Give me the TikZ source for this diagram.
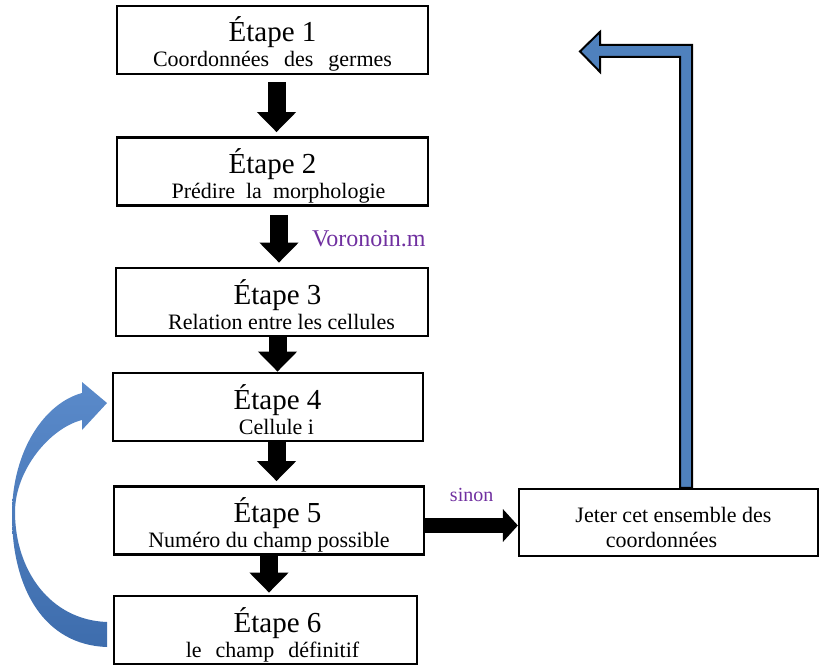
\documentclass[tikz,border=0pt]{standalone}
\usepackage{fontspec}
\setmainfont{Liberation Serif}
\usetikzlibrary{arrows.meta}
\definecolor{bleu}{HTML}{4F81BD}
\definecolor{bleuhaut}{HTML}{5A8ACA}
\definecolor{bleubas}{HTML}{3E6DAD}
\definecolor{violetm}{HTML}{7030A0}
\tikzset{
  etape/.style={draw, line width=2.8pt, minimum height=68pt, inner sep=0pt,
    align=center, text height=54pt, text depth=0pt, font=\fontsize{22}{25}\selectfont},
  fleche/.style={line width=18pt, -{Triangle[width=38pt,length=20pt]}},
  etiquette/.style={inner sep=0pt, text=violetm},
}
\newcommand{\titre}{\fontsize{29}{25}\selectfont}
\begin{document}
\begin{tikzpicture}[x=1pt,y=-1pt]
\useasboundingbox (0,0) rectangle (821,671);
\node[etape,minimum width=311pt] (b1) at (272.5,40) {{\titre Étape 1}\\Coordonnées\hspace{15pt}des\hspace{15pt}germes};
\node[etape,minimum width=311pt] (b2) at (272.5,171.5) {{\titre Étape 2}\\\hspace*{12pt}Prédire\hspace{11pt}la\hspace{11pt}morphologie};
\node[etape,minimum width=312pt] (b3) at (272,302) {\hspace*{11pt}{\titre Étape 3}\\\hspace*{19pt}Relation entre les cellules};
\node[etape,minimum width=310pt] (b4) at (268,407) {\hspace*{19pt}{\titre Étape 4}\\\hspace*{17pt}Cellule i};
\node[etape,minimum width=310pt] (b5) at (269,520.5) {\hspace*{17pt}{\titre Étape 5}\\Numéro du champ possible};
\node[etape,minimum width=303pt] (b6) at (265.5,630) {\hspace*{24pt}{\titre Étape 6}\\\hspace*{14pt}le\hspace{14pt}champ\hspace{14pt}définitif};
\node[etape,minimum width=299pt,minimum height=67pt,line width=2.2pt,text height=49pt] (j) at (668.5,522.5) {\hspace*{10pt}Jeter cet ensemble des\\coordonnées\hspace*{14pt}};
\draw[fleche] ([xshift=4pt,yshift=-7pt]b1.south) -- ([xshift=4pt,yshift=4pt]b2.north);
\draw[fleche] ([xshift=6.5pt,yshift=-8pt]b2.south) -- ([xshift=7pt,yshift=4pt]b3.north)
  node[midway,right=24pt,etiquette,font=\fontsize{24}{26}\selectfont] (voro) {Voronoin.m};
\draw[fleche] ([xshift=5.5pt]b3.south) -- ([xshift=9.5pt]b4.north);
\draw[fleche] ([xshift=8.5pt]b4.south) -- ([xshift=7.5pt,yshift=4pt]b5.north);
\draw[fleche] (b5.south) -- ([xshift=3.5pt,yshift=2pt]b6.north);
\draw[fleche,line width=15pt,-{Triangle[width=32pt,length=15pt]}] ([yshift=-5pt]b5.east) -- ([yshift=-3pt]j.west)
  node[midway,above=16pt,etiquette,font=\fontsize{20}{22}\selectfont] (sinon) {sinon};
\coordinate (retour) at ([xshift=11.5pt]j.north);
\filldraw[fill=bleu,draw=black,line width=2pt,line join=miter] (retour) -- ++(0,-431) -- ++(-80,0) -- ++(0,15)
  -- ++(-20,-20.5) -- ++(20,-19.5) -- ++(0,13) -- ++(92,0) -- ++(0,443) -- cycle;
\shade[top color=bleuhaut,bottom color=bleubas] (107,647) .. controls (45,645) and (12,590) .. (12,515)
  .. controls (12,450) and (45,403) .. (82,393) -- (82,382) -- (107,403) -- (82,430) -- (82,420)
  .. controls (50,428) and (15,470) .. (15,512) .. controls (15,570) and (50,620) .. (107,622) -- cycle;
\end{tikzpicture}
\end{document}
